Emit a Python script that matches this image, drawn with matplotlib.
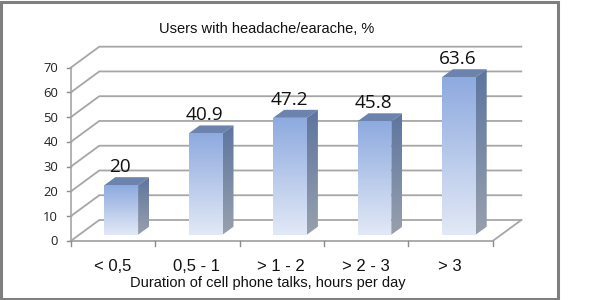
import matplotlib
matplotlib.use("Agg")
import matplotlib.pyplot as plt
import numpy as np
from matplotlib.colors import LinearSegmentedColormap
from matplotlib.patches import Polygon, Rectangle

categories = ["< 0,5", "0,5 - 1", "> 1 - 2", "> 2 - 3", "> 3"]
values = [20, 40.9, 47.2, 45.8, 63.6]
value_labels = ["20", "40.9", "47.2", "45.8", "63.6"]
y_ticks = [0, 10, 20, 30, 40, 50, 60, 70]
title = "Users with headache/earache, %"
x_title = "Duration of cell phone talks, hours per day"

# pixel geometry of the fake 3D box
X0, CAT_W = 70.7, 84.4
Y0, UNIT = 241.0, 2.476
WALL_DX, WALL_DY = 28.6 / CAT_W, 21.0 / UNIT
BAR_LEFT, BAR_W = 33.6 / CAT_W, 33.8 / CAT_W
BAR_LIFT = 6.3 / UNIT
DEPTH_DX, DEPTH_DY = 11.0 / CAT_W, 8.0 / UNIT

GRID = "#a6a6a6"
front_cm = LinearSegmentedColormap.from_list("front", ["#8eaadf", "#e2e9f6"])
side_cm = LinearSegmentedColormap.from_list("side", ["#5d759f", "#98a0ad"])
top_color = "#6b83ad"

fig = plt.figure(figsize=(6, 3), dpi=100)
ax = fig.add_axes([0, 0, 1, 1])
ax.set_xlim(-X0 / CAT_W, (600 - X0) / CAT_W)
ax.set_ylim((Y0 - 300) / UNIT, Y0 / UNIT)
ax.axis("off")


def gradient(points, cmap, zorder):
    # imshow gradient clipped to a polygon, top to bottom
    xs, ys = zip(*points)
    grad = np.linspace(0, 1, 128).reshape(-1, 1)
    im = ax.imshow(grad, cmap=cmap, aspect="auto", zorder=zorder,
                   extent=(min(xs), max(xs), min(ys), max(ys)))
    im.set_clip_path(Polygon(points, transform=ax.transData))


# frame of the picture
px_w, px_h = 1 / CAT_W, 1 / UNIT
ax.add_patch(Rectangle((-X0 / CAT_W + 1 * px_w, (Y0 - 299) / UNIT),
                       556.5 * px_w, 297.5 * px_h, fill=False,
                       edgecolor="#7f7f7f", linewidth=2.2, zorder=1))

# walls and gridlines
n = len(categories)
for t in y_ticks:
    ax.plot([0, WALL_DX, n + WALL_DX], [t, t + WALL_DY, t + WALL_DY],
            color=GRID, lw=1.3, zorder=2, solid_joinstyle="miter")
    ax.plot([-4 / CAT_W, 0], [t, t], color="#8c8c8c", lw=1, zorder=2)
    ax.text(-12.5 / CAT_W, t - 0.8 / UNIT, str(t), ha="right", va="center",
            fontsize=9.4, family="Open Sans", color="#222222")

# left axis, floor front and right floor edge
ax.plot([0, 0], [0, y_ticks[-1]], color=GRID, lw=1.2, zorder=2)
ax.plot([0, n, n + WALL_DX], [0, 0, WALL_DY], color=GRID, lw=1.3, zorder=2)
for i in range(n + 1):
    ax.plot([i, i], [0, -5 / UNIT], color="#8c8c8c", lw=1, zorder=2)

# bars
for i, (v, lab) in enumerate(zip(values, value_labels)):
    l, r = i + BAR_LEFT, i + BAR_LEFT + BAR_W
    b, t = BAR_LIFT, BAR_LIFT + v
    ax.add_patch(Polygon([(l, t), (r, t), (r + DEPTH_DX, t + DEPTH_DY),
                          (l + DEPTH_DX, t + DEPTH_DY)],
                         facecolor=top_color, edgecolor="none", zorder=4))
    gradient([(r, b), (r + DEPTH_DX, b + DEPTH_DY),
              (r + DEPTH_DX, t + DEPTH_DY), (r, t)], side_cm, 4)
    gradient([(l, b), (r, b), (r, t), (l, t)], front_cm, 5)
    ax.text(l + BAR_W / 2 - 1 / CAT_W, t + 9 / UNIT, lab, ha="center",
            va="bottom", fontsize=13.7, family="Open Sans", color="#111111",
            zorder=6)
    ax.text(i + 0.5 - 0.5 / CAT_W, -25.5 / UNIT, categories[i], ha="center",
            va="center", fontsize=12, family="Liberation Sans",
            color="#111111")

ax.set_xlim(-X0 / CAT_W, (600 - X0) / CAT_W)
ax.set_ylim((Y0 - 300) / UNIT, Y0 / UNIT)

ax.text((267 - X0) / CAT_W, (Y0 - 29) / UNIT, title, ha="center", va="center",
        fontsize=10.5, family="Liberation Sans", color="#111111")
ax.text((268 - X0) / CAT_W, (Y0 - 283) / UNIT, x_title, ha="center",
        va="center", fontsize=10.5, family="Liberation Sans", color="#111111")

fig.savefig("out.png", dpi=100)
